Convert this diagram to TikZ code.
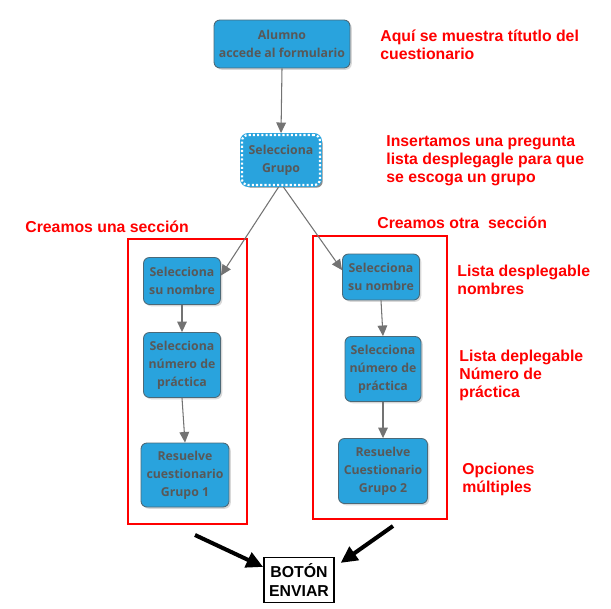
\documentclass[tikz,border=0pt]{standalone}
\usepackage{fontspec}
\setmainfont{Liberation Sans}
\newfontfamily\boxfont{Open Sans}
\usetikzlibrary{arrows.meta,shadows}
\definecolor{boxblue}{RGB}{41,163,221}
\definecolor{boxtext}{RGB}{88,88,88}
\definecolor{boxline}{RGB}{75,105,120}
\definecolor{notered}{RGB}{255,0,0}
\tikzstyle{stepnode}=[rectangle,rounded corners=3.4pt,fill=boxblue,draw=boxline,line width=0.5pt,align=center,text=boxtext,inner sep=1pt,font=\boxfont\bfseries\fontsize{7}{10.2}\selectfont,drop shadow={opacity=0.3,shadow xshift=1pt,shadow yshift=-1pt}]
\tikzstyle{choicenode}=[rectangle,rounded corners=3.4pt,fill=boxblue,draw=boxblue,line width=2.2pt,align=center,text=boxtext,inner sep=1pt,font=\boxfont\bfseries\fontsize{7}{10.2}\selectfont,postaction={draw=white,line width=1.2pt,dash pattern=on 1.2pt off 1.2pt},drop shadow={opacity=0.9,shadow xshift=1.5pt,shadow yshift=-1.5pt}]
\tikzstyle{sendnode}=[rectangle,fill=white,draw=black,line width=1pt,align=center,inner sep=1pt,font=\bfseries\fontsize{9}{10.4}\selectfont]
\tikzstyle{sectionframe}=[draw=notered,line width=1.1pt]
\tikzstyle{note}=[anchor=north west,inner sep=0pt,align=left,text=notered,font=\bfseries\fontsize{9}{10.2}\selectfont]
\tikzstyle{flow}=[draw=black!55,line width=0.6pt,-{Triangle[length=6pt,width=5.5pt]}]
\tikzstyle{submit}=[draw=black,line width=2.3pt,-{Triangle[length=9.5pt,width=9pt]}]

\begin{document}
\begin{tikzpicture}[x=0.02cm,y=-0.02cm]
    \fill[white] (0,0) rectangle (611,608);
    \useasboundingbox (0,0) rectangle (611,608);
    % Red frames of the two sections
    \draw[sectionframe] (128,239) rectangle (247,524);
    \draw[sectionframe] (313,236) rectangle (447,519);
    % First we draw the boxes
    \node[stepnode, minimum width=2.72cm, minimum height=0.96cm] (alumno) at (282,44) {Alumno\\accede al formulario};
    \node[choicenode, minimum width=1.56cm, minimum height=1.0cm] (grupo) at (281,160) {Selecciona\\Grupo};
    \foreach \pos/\name/\w/\h/\txt in {{(182,281)/l1/1.54/0.94/{Selecciona\\su nombre}},
                                      {(182,365)/l2/1.54/1.3/{Selecciona\\número de\\práctica}},
                                      {(185,475)/l3/1.76/1.28/{Resuelve\\cuestionario\\Grupo 1}},
                                      {(381,277)/r1/1.54/0.92/{Selecciona\\su nombre}},
                                      {(383,369)/r2/1.52/1.3/{Selecciona\\número de\\práctica}},
                                      {(383,471)/r3/1.78/1.3/{Resuelve\\Cuestionario\\Grupo 2}}}
        \node[stepnode, minimum width=\w cm, minimum height=\h cm] (\name) at \pos {\txt};
    \node[sendnode, minimum width=1.4cm, minimum height=0.9cm] (enviar) at (299,580) {BOTÓN\\ENVIAR};
    % Connect the boxes
    \foreach \source/\dest in {alumno.south/grupo.north, grupo.-95/l1.8, grupo.-85/r1.170,
                               l1.south/l2.north, l2.south/l3.north, r1.south/r2.north, r2.south/r3.north}
        \path[flow] (\source) -- (\dest);
    \coordinate (fromleft) at (195,535);
    \coordinate (fromright) at (393,526);
    \path[submit] (fromleft) -- (enviar.160);
    \path[submit, shorten >=4pt] (fromright) -- (enviar.20);
    % Red notes
    \node[note] (titulo) at (380,30) {Aquí se muestra títutlo del\\cuestionario};
    \node[note] (pregunta) at (386,135) {Insertamos una pregunta\\lista desplegagle para que\\se escoga un grupo};
    \node[note] (seccionuna) at (25,221) {Creamos una sección};
    \node[note] (seccionotra) at (377,217) {Creamos otra \ sección};
    \node[note] (nombres) at (457,265) {Lista desplegable\\nombres};
    \node[note] (practica) at (459,350) {Lista deplegable\\Número de\\práctica};
    \node[note] (opciones) at (462,463) {Opciones\\múltiples};
\end{tikzpicture}
\end{document}
